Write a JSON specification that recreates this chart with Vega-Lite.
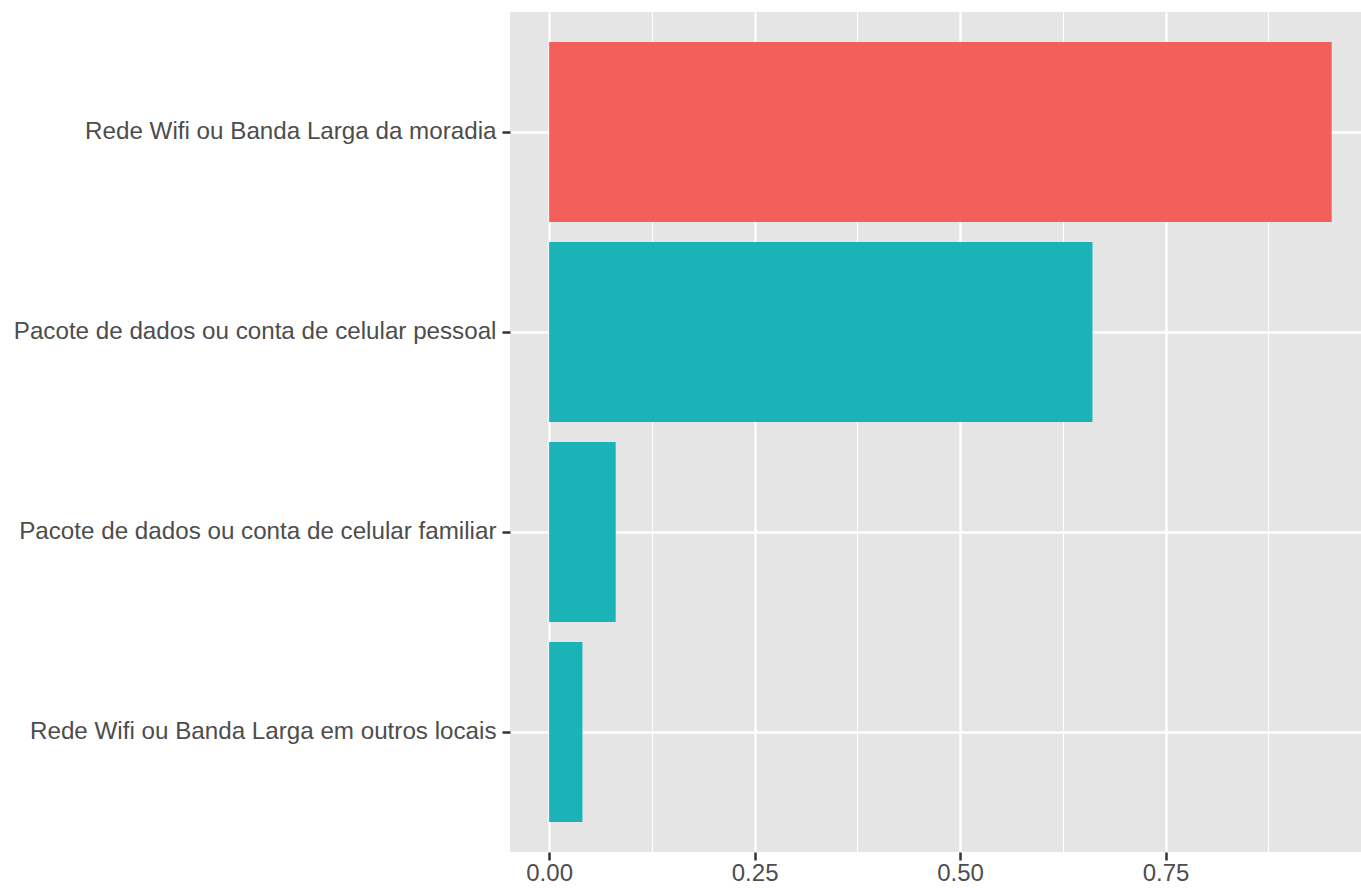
{
  "$schema": "https://vega.github.io/schema/vega-lite/v6.json",
  "width": 851,
  "height": 840,
  "autosize": {"type": "none"},
  "padding": {"left": 510, "top": 12, "right": 0, "bottom": 36},
  "background": "white",
  "config": {
    "view": {"fill": "#E5E5E5", "stroke": null},
    "font": "Liberation Sans"
  },
  "data": {
    "values": [
      {"meio": "Rede Wifi ou Banda Larga da moradia", "prop": 0.952, "grupo": "a"},
      {"meio": "Pacote de dados ou conta de celular pessoal", "prop": 0.661, "grupo": "b"},
      {"meio": "Pacote de dados ou conta de celular familiar", "prop": 0.081, "grupo": "b"},
      {"meio": "Rede Wifi ou Banda Larga em outros locais", "prop": 0.0405, "grupo": "b"}
    ]
  },
  "layer": [
    {
      "mark": {"type": "bar", "opacity": 0},
      "encoding": {
        "y": {"field": "meio", "type": "nominal", "sort": "-x",
              "scale": {"paddingInner": 0.1, "paddingOuter": 0.15},
              "axis": {"grid": true, "gridColor": "white", "gridWidth": 2.4, "domain": false,
                       "tickColor": "#333333", "tickSize": 8, "tickWidth": 2.5,
                       "labelColor": "#4D4D4D", "labelFont": "Liberation Sans", "labelFontSize": 24.2,
                       "labelPadding": 6, "labelLimit": 700, "title": null}},
        "x": {"field": "prop", "type": "quantitative",
              "scale": {"domain": [-0.0476, 0.9877], "nice": false, "zero": false},
              "axis": {"orient": "top", "values": [0.125, 0.375, 0.625, 0.875], "grid": true, "gridColor": "white", "gridWidth": 1.2,
                       "ticks": false, "labels": false, "domain": false, "title": null}}
      }
    },
    {
      "mark": {"type": "bar"},
      "encoding": {
        "y": {"field": "meio", "type": "nominal", "sort": "-x",
              "scale": {"paddingInner": 0.1, "paddingOuter": 0.15}},
        "x": {"field": "prop", "type": "quantitative",
              "scale": {"domain": [-0.0476, 0.9877], "nice": false, "zero": false},
              "axis": {"values": [0, 0.25, 0.5, 0.75], "format": ".2f", "grid": true, "gridColor": "white", "gridWidth": 2.4,
                       "domain": false, "tickColor": "#333333", "tickSize": 8, "tickWidth": 2.5,
                       "labelColor": "#4D4D4D", "labelFont": "Liberation Sans", "labelFontSize": 24,
                       "labelPadding": 1, "title": null}},
        "color": {"field": "grupo", "type": "nominal",
                  "scale": {"domain": ["a", "b"], "range": ["#F3605C", "#19B3B8"]},
                  "legend": null}
      }
    }
  ],
  "resolve": {"axis": {"x": "independent"}}
}
